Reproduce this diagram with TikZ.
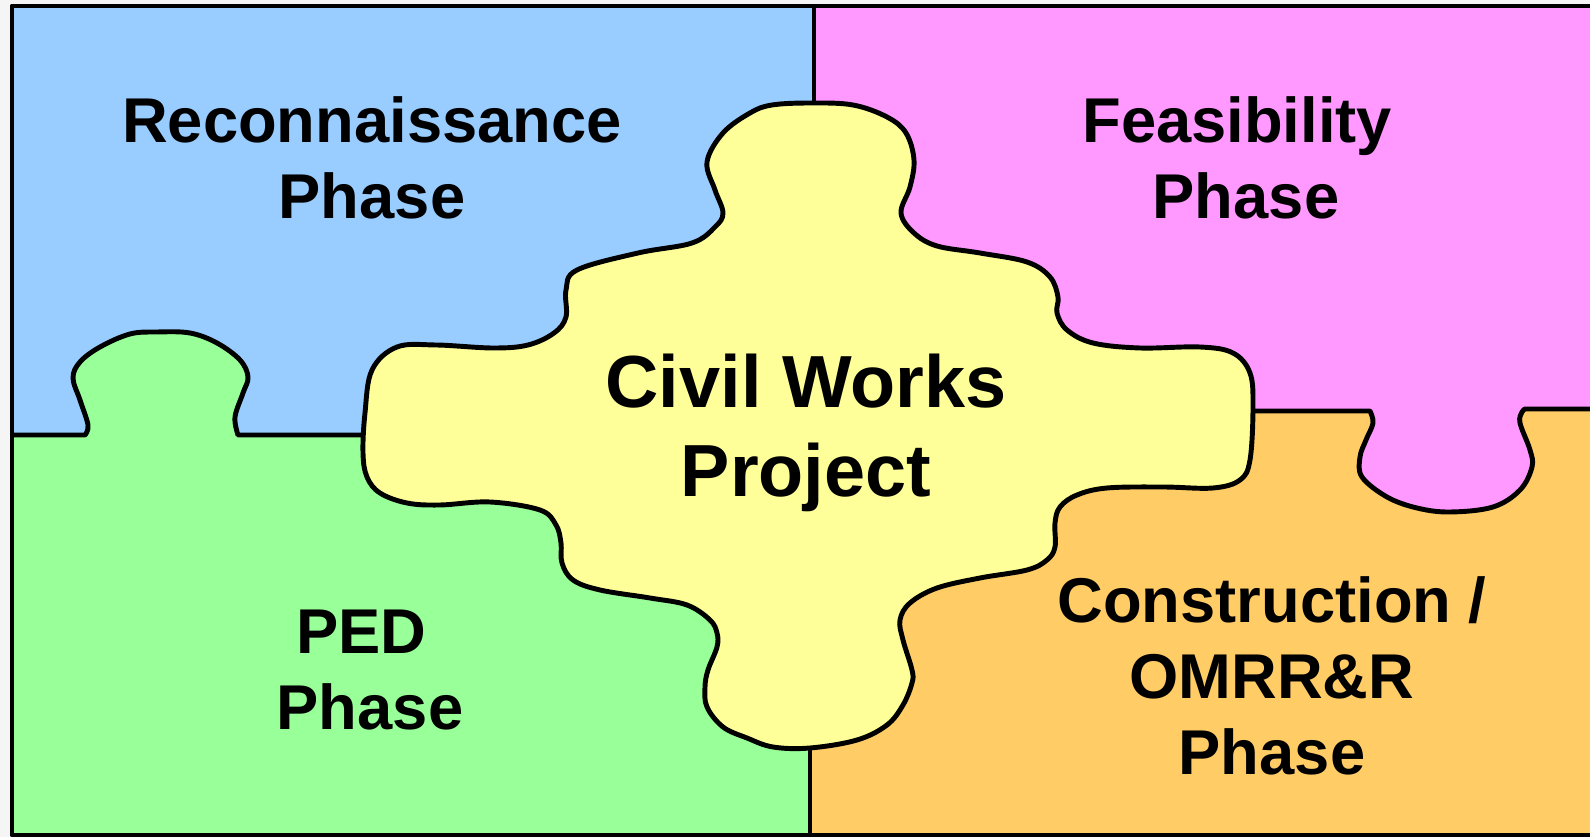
\documentclass[tikz,border=0pt]{standalone}
\usepackage{fontspec}
\setmainfont{Liberation Sans}

\definecolor{azul}{HTML}{99CCFF}
\definecolor{rosa}{HTML}{FF99FF}
\definecolor{verde}{HTML}{99FF99}
\definecolor{naranja}{HTML}{FFCC66}
\definecolor{amarillo}{HTML}{FFFF99}

\tikzset{
  borde/.style={line width=1.4pt, line join=round},
  fase/.style={font=\fontsize{18}{21.6}\selectfont\bfseries, align=center, inner sep=0pt},
  centro/.style={font=\fontsize{21}{25.3}\selectfont\bfseries, align=center, inner sep=0pt},
}

\begin{document}
\begin{tikzpicture}[x=0.01cm, y=-0.01cm]
        \useasboundingbox (0,0) rectangle (1590,837);
        % Fondo
        \fill[gray!8] (0,0) rectangle (1590,837);
        % Cuadrantes
        \fill[azul] (12,6) rectangle (814,435);
        \fill[rosa] (814,6) rectangle (1590,411);
        \fill[verde] (12,435) rectangle (812,835);
        \fill[naranja] (812,411) rectangle (1590,835);
        % Lengueta verde
        \draw[borde, fill=verde] (12,435) -- plot[smooth, tension=0.6] coordinates {(85,435) (88,425) (80,400) (73,378) (80,362) (100,347) (130,334) (157,332) (190,333) (217,343) (240,360) (248,377) (243,393) (235,417) (238,435)} -- (366,435);
        % Lengueta rosa
        \draw[borde, fill=rosa] (1250,411) -- plot[smooth, tension=0.6] coordinates {(1370,411) (1373,423) (1366,440) (1360,457) (1362,477) (1387,497) (1417,508) (1450,512) (1493,507) (1520,490) (1532,467) (1530,450) (1520,423) (1522,412) (1525,409)} -- (1590,409);
        % Divisiones verticales
        \draw[borde] (814,6) -- (814,110);
        \draw[borde] (810,740) -- (810,835);
        % Pieza central
        \draw[borde, fill=amarillo] plot[smooth cycle, tension=0.6] coordinates {
          (811,103) (853,105) (887,117) (906,133) (914,160) (910,187) (901,213)
          (914,233) (937,246) (980,253) (1027,262) (1050,277) (1058,297) (1057,313)
          (1067,330) (1093,343) (1140,348) (1200,347) (1233,353) (1250,373) (1253,407)
          (1250,460) (1240,480) (1213,488) (1163,487) (1107,488) (1077,495) (1060,507)
          (1055,523) (1055,547) (1047,560) (1027,570) (980,578) (937,588) (910,603)
          (900,620) (903,640) (912,670) (912,683) (903,705) (887,725) (857,740)
          (810,748) (773,747) (747,738) (723,727) (707,707) (705,687) (708,670)
          (717,647) (717,633) (710,620) (687,605) (650,598) (600,590) (573,580)
          (562,563) (561,543) (556,525) (540,510) (490,502) (440,505) (407,503)
          (380,493) (367,477) (363,453) (365,413) (372,370) (397,347) (436,345)
          (493,348) (528,345) (554,333) (566,317) (566,290) (577,270) (638,253)
          (692,243) (715,227) (723,213) (715,190) (707,162) (723,133) (750,113)
          (772,105)};
        % Marco
        \draw[borde] (1590,6) -- (12,6) -- (12,835) -- (1590,835);
        % Textos
        \node[fase] (recon) at (372,158) {Reconnaissance\\Phase};
        \node[fase] (feas) at (1246,158) {Feasibility\hspace*{5pt}\\Phase};
        \node[fase] (ped) at (370,670) {PED\hspace*{5pt}\\Phase};
        \node[fase] (constr) at (1272,676) {Construction /\\OMRR\&R\\Phase};
        \node[centro] (civil) at (806,433) {Civil Works\\Project};
\end{tikzpicture}
\end{document}
